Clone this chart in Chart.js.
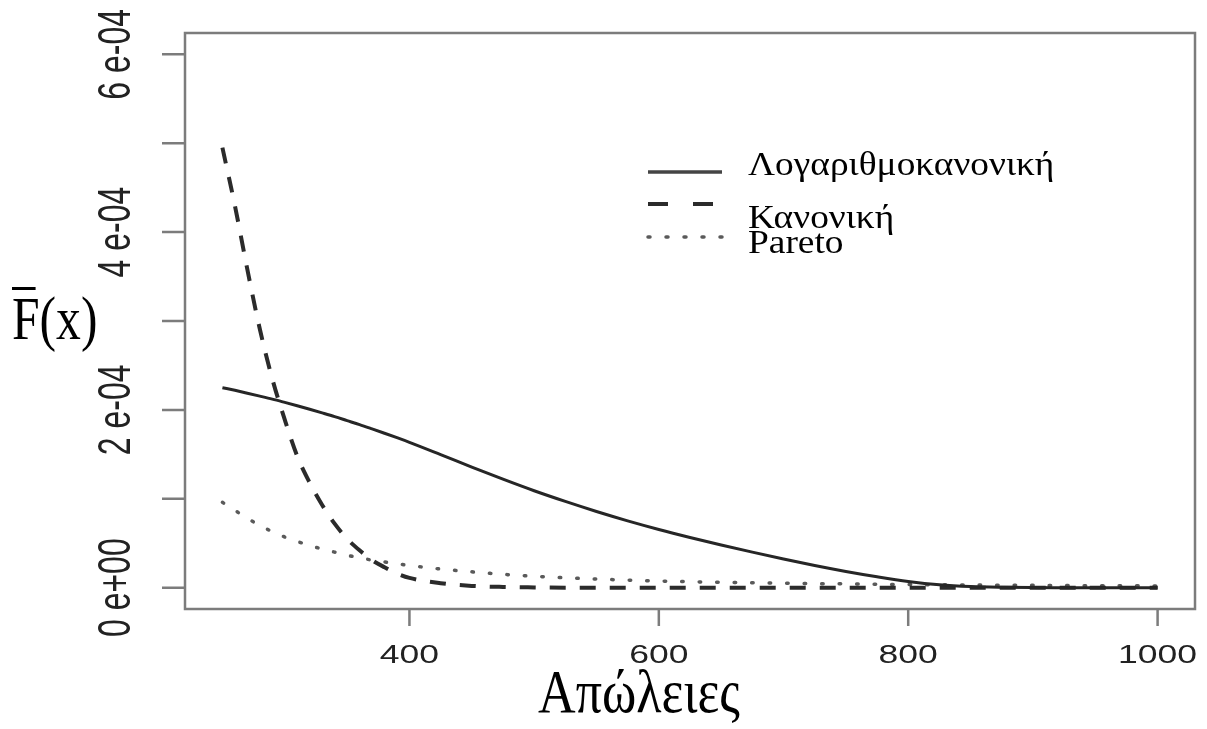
<!DOCTYPE html>
<html lang="el">
<head>
<meta charset="utf-8">
<title>Απώλειες</title>
<script src="https://cdn.jsdelivr.net/npm/chart.js"></script>
<style>
  html, body { margin: 0; padding: 0; background: #fff; }
  #wrap { width: 1207px; height: 729px; }
</style>
</head>
<body>
<div id="wrap"><canvas id="chart" width="1207" height="729"></canvas></div>
<script>
// Απώλειες x όπου διαβάστηκε η ουρά F̄(x) κάθε κατανομής
const apoleies = [250, 260, 270, 280, 290, 300, 310, 320, 330, 340, 350, 360, 370, 380, 390, 400,
                  425, 450, 475, 500, 525, 550, 575, 600, 625, 650, 675, 700, 725, 750, 775, 800,
                  825, 850, 875, 900, 925, 950, 975, 1000];

// F̄(x) σε μονάδες 1e-4
const logKanoniki = [2.25, 2.22, 2.188, 2.155, 2.121, 2.084, 2.046, 2.007, 1.966, 1.924, 1.879, 1.834, 1.786, 1.737, 1.687, 1.635,
                     1.497, 1.357, 1.22, 1.09, 0.97, 0.857, 0.752, 0.655, 0.565, 0.48, 0.40, 0.323, 0.25, 0.183, 0.123, 0.07,
                     0.032, 0.012, 0.004, 0.001, 0, 0, 0, 0];
const kanoniki = [4.95, 4.30, 3.58, 2.91, 2.35, 1.89, 1.48, 1.18, 0.93, 0.72, 0.55, 0.42, 0.31, 0.23, 0.16, 0.11,
                  0.05, 0.02, 0.008, 0.003, 0, 0, 0, 0, 0, 0, 0, 0, 0, 0, 0, 0,
                  0, 0, 0, 0, 0, 0, 0, 0];
const pareto = [0.96, 0.87, 0.78, 0.70, 0.63, 0.57, 0.52, 0.475, 0.435, 0.40, 0.365, 0.335, 0.31, 0.29, 0.27, 0.25,
                0.21, 0.178, 0.15, 0.128, 0.111, 0.097, 0.085, 0.075, 0.067, 0.06, 0.055, 0.05, 0.046, 0.042, 0.038, 0.035,
                0.032, 0.03, 0.028, 0.026, 0.024, 0.022, 0.021, 0.02];

const onomata = ['Λογαριθμοκανονική', 'Κανονική', 'Pareto'];

// άξονες
const xTicks = [400, 600, 800, 1000];
const yTicks = [0, 1e-4, 2e-4, 3e-4, 4e-4, 5e-4, 6e-4];
const yLabelValues = [0, 2e-4, 4e-4, 6e-4];
const yLabelTexts = ['0 e+00', '2 e-04', '4 e-04', '6 e-04'];

const points = arr => apoleies.map((x, i) => ({ x: x, y: arr[i] * 1e-4 }));

// κείμενο με τέντωμα / περιστροφή
function txt(ctx, s, x, y, o) {
  ctx.save();
  ctx.translate(x, y);
  if (o.rotate) ctx.rotate(o.rotate);
  ctx.scale(o.sx || 1, o.sy || 1);
  ctx.font = o.font;
  ctx.fillStyle = o.color || '#000';
  ctx.textAlign = o.align || 'center';
  ctx.textBaseline = o.baseline || 'alphabetic';
  ctx.fillText(s, 0, 0);
  ctx.restore();
}

const plaisio = {
  id: 'plaisio',
  afterDraw(chart) {
    const { ctx, chartArea: a, scales: { x, y } } = chart;
    ctx.save();
    ctx.strokeStyle = '#7c7c7c';
    ctx.lineWidth = 2.5;
    ctx.strokeRect(a.left, a.top, a.right - a.left, a.bottom - a.top);

    ctx.beginPath();
    xTicks.forEach(v => {
      const px = x.getPixelForValue(v);
      ctx.moveTo(px, a.bottom); ctx.lineTo(px, a.bottom + 17);
    });
    yTicks.forEach(v => {
      const py = y.getPixelForValue(v);
      ctx.moveTo(a.left, py); ctx.lineTo(a.left - 23, py);
    });
    ctx.stroke();
    ctx.restore();

    xTicks.forEach(v => {
      txt(ctx, String(v), x.getPixelForValue(v), 663,
          { font: '25px "Liberation Sans", Arial, sans-serif', sx: 1.42, color: '#222' });
    });
    yLabelValues.forEach((v, i) => {
      txt(ctx, yLabelTexts[i], 117, y.getPixelForValue(v),
          { font: '32px "Liberation Sans", Arial, sans-serif', rotate: -Math.PI / 2, sy: 1.42,
            baseline: 'middle', color: '#222' });
    });

    // τίτλοι αξόνων
    const serif = '"Liberation Serif", "Times New Roman", serif';
    txt(ctx, 'Απώλειες', 639, 712, { font: '62px ' + serif, sx: 0.84 });
    txt(ctx, 'F(x)', 12, 339, { font: '62px ' + serif, sx: 0.8, align: 'left' });
    ctx.save();
    ctx.font = '62px ' + serif;
    const fw = ctx.measureText('F').width * 0.8;
    ctx.fillStyle = '#000';
    ctx.fillRect(12, 287, fw - 4, 3);
    ctx.restore();

    // υπόμνημα
    const ly = [172, 204, 237];
    const lb = [175, 228, 253];
    const legendDash = [[], [20, 25], [2, 16]];
    chart.data.datasets.forEach((ds, i) => {
      ctx.save();
      ctx.strokeStyle = i === 0 ? '#444' : ds.borderColor;
      ctx.lineWidth = i === 0 ? 3.5 : ds.borderWidth;
      ctx.lineCap = ds.borderCapStyle || 'butt';
      ctx.setLineDash(legendDash[i]);
      ctx.beginPath();
      ctx.moveTo(648, ly[i]); ctx.lineTo(722, ly[i]);
      ctx.stroke();
      ctx.restore();
      txt(ctx, ds.label, 748, lb[i], { font: '34px ' + serif, align: 'left', sx: 1.1 });
    });
  }
};

new Chart(document.getElementById('chart'), {
  type: 'line',
  data: {
    datasets: [
      { label: onomata[0], data: points(logKanoniki), borderColor: '#262626', borderWidth: 3 },
      { label: onomata[1], data: points(kanoniki), borderColor: '#2b2b2b', borderWidth: 4, borderDash: [16, 14] },
      { label: onomata[2], data: points(pareto), borderColor: '#5a5a5a', borderWidth: 3.5,
        borderDash: [1.5, 16], borderCapStyle: 'round' }
    ]
  },
  options: {
    responsive: false,
    animation: false,
    layout: { padding: { left: 185, top: 33, right: 12, bottom: 120 } },
    elements: { point: { radius: 0 }, line: { cubicInterpolationMode: 'monotone', fill: false } },
    plugins: { legend: { display: false }, tooltip: { enabled: false } },
    scales: {
      x: { type: 'linear', min: 220, max: 1030, display: false },
      y: { type: 'linear', min: -0.24e-4, max: 6.24e-4, display: false }
    }
  },
  plugins: [plaisio]
});
</script>
</body>
</html>
